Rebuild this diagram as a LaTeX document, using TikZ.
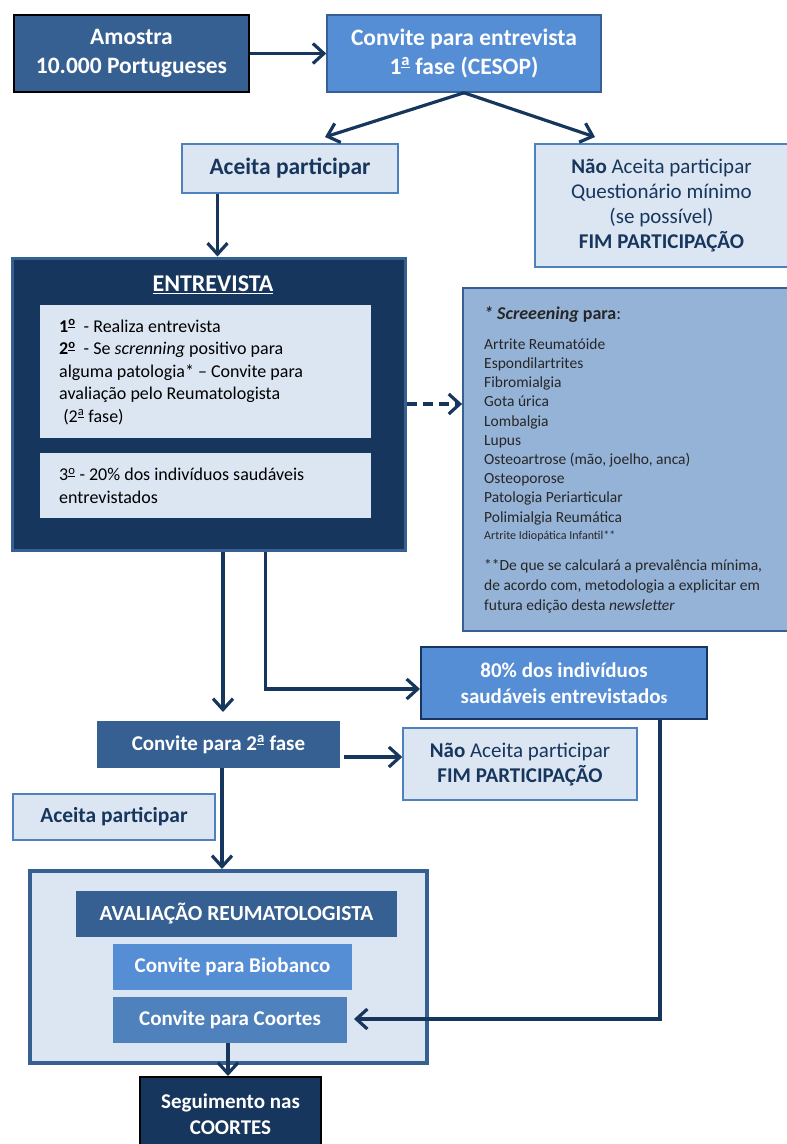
\documentclass[tikz,border=0pt]{standalone}
\usepackage{fontspec}
\setmainfont{Carlito}
\usetikzlibrary{arrows.meta,calc}

\definecolor{navy}{HTML}{17365D}
\definecolor{midblue}{HTML}{376092}
\definecolor{brightblue}{HTML}{558ED5}
\definecolor{coortblue}{HTML}{4F81BD}
\definecolor{pale}{HTML}{DCE6F2}
\definecolor{screenblue}{HTML}{95B3D7}
\newcommand{\uord}[1]{\textsuperscript{\underline{#1}}}

\begin{document}
\begin{tikzpicture}[x=1pt,y=-1pt,
  box/.style={rectangle, inner sep=0pt, align=center},
  palebox/.style={box, fill=pale, draw=coortblue, line width=1.5pt, text=navy},
  arr/.style={draw=navy, line width=3.2pt, -{Straight Barb[length=11pt,width=20pt]}},
  bigb/.style={font=\bfseries\fontsize{23.5}{29}\selectfont},
  medb/.style={font=\bfseries\fontsize{21}{26}\selectfont},
  intext/.style={inner sep=0pt, anchor=west, align=left, font=\fontsize{18}{22.5}\selectfont},
]
\useasboundingbox (0,0) rectangle (787,1144);

% ---- top row
\node[box, draw=black, line width=2pt, fill=midblue, text=white, bigb,
      minimum width=235pt, minimum height=77pt] (amostra) at (131.5,53.5)
      {Amostra\\10.000 Portugueses};
\node[box, draw=midblue, line width=1.5pt, fill=brightblue, text=white, bigb,
      minimum width=274pt, minimum height=77pt] (conv1) at (464,53.5)
      {Convite para entrevista\\1\uord{a} fase (CESOP)};
\draw[arr] (amostra) -- (conv1);

\node[palebox, bigb, minimum width=216pt, minimum height=49pt] (aceita1) at (290,168.5)
      {Aceita participar};
\node[palebox, font=\fontsize{21}{25.3}\selectfont, minimum width=253pt, minimum height=123pt]
      (nao1) at (661.5,205.5)
      {\textbf{Não} Aceita participar\\Questionário mínimo\\(se possível)\\\textbf{FIM PARTICIPAÇÃO}};
\coordinate (t1) at (325,137);
\coordinate (t2) at (595,137);
\draw[arr] (conv1.south) -- (t1);
\draw[arr] (conv1.south) -- (t2);

% ---- entrevista
\node[box, fill=navy, draw=midblue, line width=3pt, minimum width=393pt, minimum height=292pt]
      (entrev) at (208.5,404) {};
\node[text=white, font=\bfseries\fontsize{24}{28}\selectfont, inner sep=0pt] (entitle) at (213,285)
      {\underline{ENTREVISTA}};
\node[box, fill=pale, minimum width=331pt, minimum height=133pt] (in1) at (205.5,371.5) {};
\node[intext] (in1text) at (59,372)
      {\textbf{1\uord{o}}\ \ - Realiza entrevista\\
       \textbf{2\uord{o}}\ \ - Se \textit{screnning} positivo para\\
       alguma patologia* – Convite para\\
       avaliação pelo Reumatologista\\
       \ (2\uord{a} fase)};
\node[box, fill=pale, minimum width=331pt, minimum height=65pt] (in2) at (205.5,485.5) {};
\node[intext] (in2text) at (59,486)
      {3\uord{o} - 20\% dos indivíduos saudáveis\\entrevistados};

\coordinate (a1x) at (217.5,0);
\draw[arr] (aceita1.south -| a1x) -- (entrev.north -| a1x);

% ---- screening
\node[box, fill=screenblue, draw=midblue, line width=1.8pt, minimum width=330pt, minimum height=343pt]
      (screen) at (628,459.5) {};
\node[inner sep=0pt, anchor=north west, align=left, text=black!85,
      font=\fontsize{15.5}{19.2}\selectfont] (scrtext) at (484,306)
      {{\fontsize{18}{19}\selectfont\textbf{\textit{* Screeening}} \textbf{para}:}\\[11pt]
       Artrite Reumatóide\\
       Espondilartrites\\
       Fibromialgia\\
       Gota úrica\\
       Lombalgia\\
       Lupus\\
       Osteoartrose (mão, joelho, anca)\\
       Osteoporose\\
       Patologia Periarticular\\
       Polimialgia Reumática\\[-1.5pt]
       {\fontsize{12}{12}\selectfont Artrite Idiopática Infantil**}\\[12pt]
       **De que se calculará a prevalência mínima,\\[0.8pt]
       de acordo com, metodologia a explicitar em\\[0.8pt]
       futura edição desta \textit{newsletter}};
\draw[arr, dash pattern=on 10pt off 6pt] (entrev.east) -- (screen.west |- entrev.east);

% ---- 80% box
\node[box, fill=brightblue, draw=navy, line width=2pt, text=white, medb,
      minimum width=286pt, minimum height=72pt] (p80) at (564,683)
      {80\% dos indivíduos\\saudáveis entrevistado{\fontsize{17}{26}\selectfont s}};
\coordinate (lx) at (223,0);
\coordinate (rx) at (265.5,0);
\coordinate (ry) at (0,689);
\draw[arr] (entrev.south -| rx) -- (rx |- ry) -- (p80.west |- ry);

% ---- convite 2a fase
\node[box, fill=midblue, text=white, medb,
      minimum width=243pt, minimum height=47pt] (conv2) at (218.5,744.5)
      {Convite para 2\uord{a} fase};
\coordinate (c2tip) at (0,712);
\draw[arr] (entrev.south -| lx) -- (lx |- c2tip);

\node[palebox, font=\fontsize{21}{25}\selectfont, minimum width=234pt, minimum height=72pt]
      (nao2) at (520,764) {\textbf{Não} Aceita participar\\\textbf{FIM PARTICIPAÇÃO}};
\coordinate (n2y) at (0,757);
\coordinate (n2s) at (344,757);
\draw[arr] (n2s) -- (nao2.west |- n2y);

\node[palebox, font=\bfseries\fontsize{21.5}{26}\selectfont, minimum width=202pt, minimum height=46pt]
      (aceita2) at (114,817) {Aceita participar};

% ---- avaliacao
\node[box, fill=pale, draw=midblue, line width=4pt, minimum width=397pt, minimum height=192pt]
      (aval) at (228.5,967) {};
\node[box, fill=midblue, text=white, font=\bfseries\fontsize{21.5}{24}\selectfont,
      minimum width=321pt, minimum height=46pt] (avtitle) at (236.5,914)
      {AVALIAÇÃO REUMATOLOGISTA};
\node[box, fill=brightblue, text=white, medb, minimum width=239pt, minimum height=46pt]
      (bio) at (232.5,967) {Convite para Biobanco};
\node[box, fill=coortblue, text=white, medb, minimum width=234pt, minimum height=46pt]
      (coort) at (230,1020) {Convite para Coortes};

\coordinate (c2x) at (222,0);
\draw[arr] (conv2.south -| c2x) -- (aval.north -| c2x);

\coordinate (px) at (660,0);
\coordinate (cy) at (0,1019);
\coordinate (ctip) at (354,1019);
\draw[arr] (p80.south -| px) -- (px |- cy) -- (ctip);

% ---- seguimento
\node[box, fill=navy, draw=black, line width=2pt, text=white, medb,
      minimum width=181pt, minimum height=74pt] (seg) at (230.5,1114)
      {Seguimento nas\\COORTES};
\coordinate (sx) at (228,0);
\draw[arr] (coort.south -| sx) -- (seg.north -| sx);
\end{tikzpicture}
\end{document}
